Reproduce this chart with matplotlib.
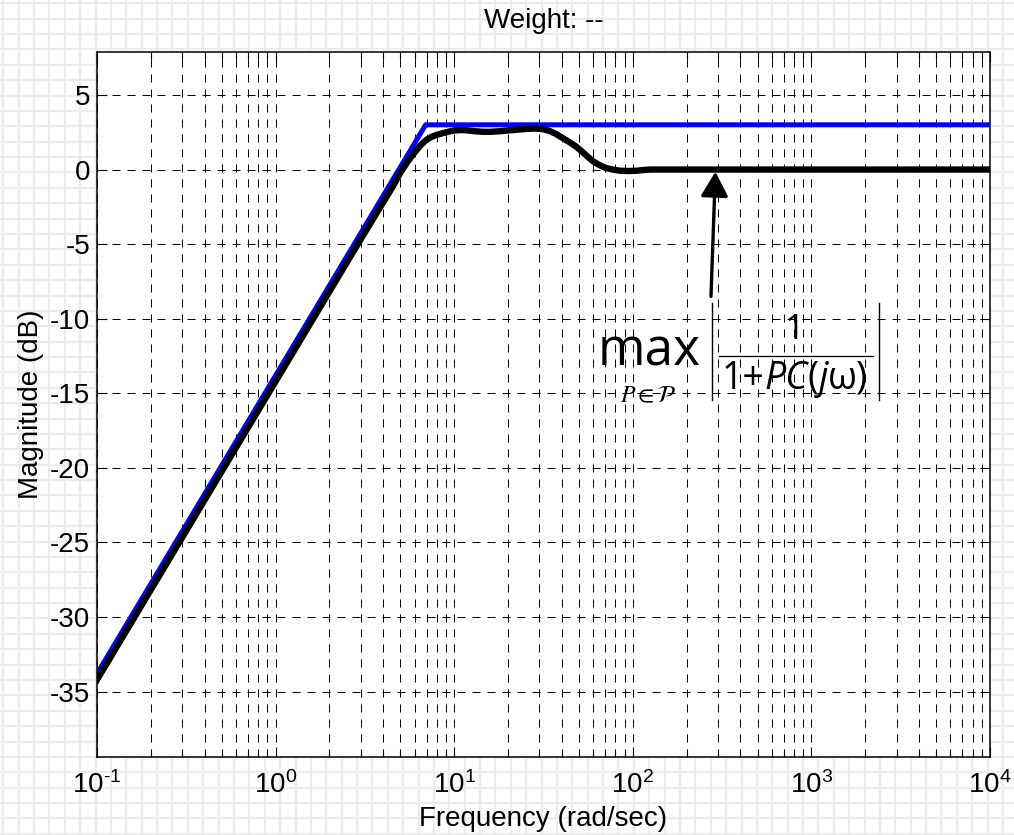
import numpy as np
import matplotlib
matplotlib.use('Agg')
import matplotlib.pyplot as plt
from matplotlib.lines import Line2D
from matplotlib.patches import FancyArrowPatch
from matplotlib.ticker import LogLocator, FixedLocator, NullFormatter, FuncFormatter

plt.rcParams['font.family'] = ['Liberation Sans', 'DejaVu Sans']
plt.rcParams['mathtext.fontset'] = 'custom'
plt.rcParams['mathtext.rm'] = 'Liberation Sans'
plt.rcParams['mathtext.it'] = 'Liberation Sans:italic'
plt.rcParams['mathtext.bf'] = 'Liberation Sans:bold'
plt.rcParams['axes.unicode_minus'] = False
plt.rcParams['lines.scale_dashes'] = False

# ---------------- data ----------------
title_text = 'Weight: --'
x_label = 'Frequency (rad/sec)'
y_label = 'Magnitude (dB)'

weight_freq = [0.1, 6.92, 1e4]
weight_db = [-33.8, 3.0, 3.0]

sens_freq = [0.1, 3.0, 4.0, 4.5, 5.0, 5.5, 6.0, 6.5, 7.0, 7.5, 8.0, 9.0, 10, 11, 12,
             13, 14.5, 16, 18, 20, 22, 25, 28, 31, 34, 37, 40, 44, 48, 52, 56, 60,
             65, 70, 77, 85, 95, 105, 115, 125, 1e4]
sens_db = [-34.2, -4.66, -2.2, -1.2, -0.2, 0.55, 1.15, 1.65, 2.0, 2.2, 2.33, 2.5, 2.62,
           2.65, 2.62, 2.57, 2.53, 2.53, 2.57, 2.62, 2.66, 2.72, 2.75, 2.72, 2.6, 2.4,
           2.15, 1.85, 1.55, 1.2, 0.85, 0.55, 0.3, 0.12, 0.0, -0.08, -0.1, -0.08,
           -0.03, 0.0, 0.0]

y_ticks = [-35, -30, -25, -20, -15, -10, -5, 0, 5]
x_range = [0.1, 1e4]
y_range = [-39.38, 7.88]

arrow_tail = (274, -8.5)
arrow_head = (290, -0.15)

# ---------------- figure ----------------
W, H = 1014, 835
fig = plt.figure(figsize=(W / 100, H / 100), dpi=100)


def fx(px):
    return px / W


def fy(py):
    return 1 - py / H


# light checker background
bg = fig.add_axes([0, 0, 1, 1], zorder=-10)
bg.set_xlim(0, W)
bg.set_ylim(H, 0)
bg.axis('off')
for xv in np.arange(3.3, W, 15.38):
    bg.axvline(xv, color='#ececec', lw=1.6)
for yv in np.arange(3.3, H, 15.38):
    bg.axhline(yv, color='#ececec', lw=1.6)

ax = fig.add_axes([fx(97), fy(757), (990 - 97) / W, (757 - 52) / H])
ax.set_facecolor('white')
ax.set_xscale('log')

ax.plot(weight_freq, weight_db, color='#0000ff', lw=3.6, solid_capstyle='butt', zorder=3)
ax.plot(sens_freq, sens_db, color='black', lw=4.6, solid_joinstyle='round', zorder=4)

ax.set_xlim(*x_range)
ax.set_ylim(*y_range)
ax.yaxis.set_major_locator(FixedLocator(y_ticks))
ax.set_yticklabels([str(t) for t in y_ticks])
ax.xaxis.set_major_locator(LogLocator(base=10, numticks=20))
ax.xaxis.set_minor_locator(LogLocator(base=10, subs=np.arange(2, 10), numticks=20))
ax.xaxis.set_minor_formatter(NullFormatter())


def dec_fmt(v, pos):
    e = int(round(np.log10(v)))
    if e < 0:
        return r'$10^{\text{-}%d}$' % (-e)
    return r'$10^{%d}$' % e


ax.xaxis.set_major_formatter(FuncFormatter(dec_fmt))

dash = (0, (5.8, 5.0))
ax.grid(True, which='major', axis='both', color='black', lw=0.7, ls=dash)
ax.grid(True, which='minor', axis='x', color='black', lw=0.7, ls=dash)
ax.set_axisbelow(True)

ax.tick_params(which='both', direction='in', top=True, right=True, width=0.8,
               labelsize=20)
ax.tick_params(which='major', length=7)
ax.tick_params(which='minor', length=5)
ax.tick_params(axis='x', pad=10)
ax.tick_params(axis='y', pad=5)
for s in ax.spines.values():
    s.set_linewidth(1.1)

ax.set_title(title_text, fontsize=20, pad=17)
ax.set_xlabel(x_label, fontsize=20)
ax.set_ylabel(y_label, fontsize=20)
ax.xaxis.set_label_coords(0.5, -(806 - 757) / 705)
ax.yaxis.set_label_coords(-(97 - 44) / 893, 0.5)

# arrow
arr = FancyArrowPatch(arrow_tail, arrow_head, arrowstyle='-|>,head_length=0.75,head_width=0.42',
                      mutation_scale=20, color='black', lw=2.4, shrinkA=0, shrinkB=0,
                      zorder=6)
ax.add_patch(arr)

# formula annotation
fig.text(fx(649), fy(365), 'max', fontsize=37, family='Open Sans', weight='medium',
         ha='center', va='baseline')
fig.text(fx(648), fy(402), r'$P\in\mathcal{P}$', fontsize=17, math_fontfamily='stix',
         ha='center', va='baseline')
fig.text(fx(795), fy(339), '1', fontsize=25, family='Open Sans', ha='center',
         va='baseline')

# denominator 1+PC(jω) composed piece by piece
pieces = [('1+', 'normal'), ('PC', 'italic'), ('(', 'normal'), ('j', 'italic'),
          ('ω)', 'normal')]
renderer = fig.canvas.get_renderer()
texts = []
for s, st in pieces:
    t = fig.text(0, fy(389), s, fontsize=27, family='Open Sans', style=st,
                 ha='left', va='baseline')
    texts.append(t)
widths = [t.get_window_extent(renderer).width for t in texts]
total = sum(widths)
xcur = 795 - total / 2
for t, w in zip(texts, widths):
    t.set_x(fx(xcur))
    xcur += w

fig.add_artist(Line2D([fx(712), fx(712)], [fy(303), fy(400)], color='black', lw=1.0))
fig.add_artist(Line2D([fx(879), fx(879)], [fy(303), fy(400)], color='black', lw=1.0))
fig.add_artist(Line2D([fx(719), fx(873)], [fy(356), fy(356)], color='black', lw=0.9))

fig.savefig('out.png', dpi=100)
